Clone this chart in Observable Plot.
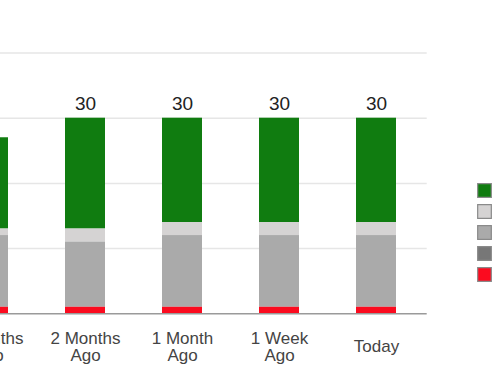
<!DOCTYPE html>
<html>
<head>
<meta charset="utf-8">
<script src="https://cdn.jsdelivr.net/npm/d3@7"></script>
<script src="https://cdn.jsdelivr.net/npm/@observablehq/plot@0.6"></script>
<style>
  html, body { margin: 0; padding: 0; background: #fff; }
  #wrap { position: relative; width: 500px; height: 383px; overflow: hidden; background: #fff; }
  #main { position: absolute; left: -63px; top: 0; }
  #legend { position: absolute; left: 470px; top: 160px; }
  svg { font-family: "Liberation Sans", Arial, sans-serif; }
</style>
</head>
<body>
<div id="wrap"><div id="main"></div><div id="legend"></div></div>
<script>
// ---- data ----
const categories = ["3 Months Ago", "2 Months Ago", "1 Month Ago", "1 Week Ago", "Today"];
const categoryLabels = ["3 Months\nAgo", "2 Months\nAgo", "1 Month\nAgo", "1 Week\nAgo", "Today"];

const seriesNames = ["Series 1", "Series 2", "Series 3", "Series 4", "Series 5"]; // legend order (top to bottom)
const seriesColors = ["#107c10", "#d5d3d3", "#aaaaaa", "#777777", "#fb0b1f"];
const stackOrder = ["Series 5", "Series 4", "Series 3", "Series 2", "Series 1"]; // bottom to top

const series1 = [14, 17, 16, 16, 16]; // green
const series2 = [1, 2, 2, 2, 2];      // light gray
const series3 = [11, 10, 11, 11, 11]; // medium gray
const series4 = [0, 0, 0, 0, 0];      // dark gray
const series5 = [1, 1, 1, 1, 1];      // red

const yTicks = [0, 10, 20, 30, 40];

// ---- build table ----
const seriesValues = [series1, series2, series3, series4, series5];
const rows = [];
categories.forEach((c, i) => {
  seriesNames.forEach((s, j) => rows.push({category: c, series: s, value: seriesValues[j][i]}));
});
const totals = categories.map((c, i) => ({category: c, total: d3.sum(seriesValues, v => v[i])}));
const labelMap = new Map(categories.map((c, i) => [c, categoryLabels[i]]));

const main = Plot.plot({
  width: 563,
  height: 383,
  marginTop: 52.5,
  marginBottom: 69.7,
  marginLeft: 0.5,
  marginRight: 73.3,
  x: {domain: categories, paddingInner: 0.59, paddingOuter: 0.295, axis: null},
  y: {domain: [0, 40], axis: null},
  color: {domain: seriesNames, range: seriesColors},
  marks: [
    Plot.ruleY(yTicks.filter(t => t > 0), {stroke: "#e6e6e6", strokeWidth: 1.5}),
    Plot.barY(rows, {x: "category", y: "value", fill: "series", order: stackOrder, inset: 0}),
    Plot.ruleY([0], {stroke: "#9a9a9a", strokeWidth: 1.5}),
    Plot.text(totals, {x: "category", y: "total", text: d => String(d.total), lineAnchor: "bottom", dy: -8.7, fontSize: 19, fill: "#222"}),
    Plot.text(categories, {x: d => d, frameAnchor: "bottom", text: d => labelMap.get(d), lineAnchor: "middle", lineHeight: 1, dy: 33, fontSize: 17, fill: "#444"})
  ]
});
document.getElementById("main").appendChild(main);

const legend = Plot.plot({
  width: 28,
  height: 145,
  marginTop: 17.4,
  marginBottom: 18.1,
  marginLeft: 0,
  marginRight: 0,
  x: {axis: null},
  y: {type: "point", domain: seriesNames, axis: null},
  color: {domain: seriesNames, range: seriesColors},
  marks: [
    Plot.dot(seriesNames, {y: d => d, symbol: "square", r: 7.7, fill: d => d, stroke: "#8a8a8a", strokeWidth: 1.2})
  ]
});
document.getElementById("legend").appendChild(legend);
</script>
</body>
</html>
